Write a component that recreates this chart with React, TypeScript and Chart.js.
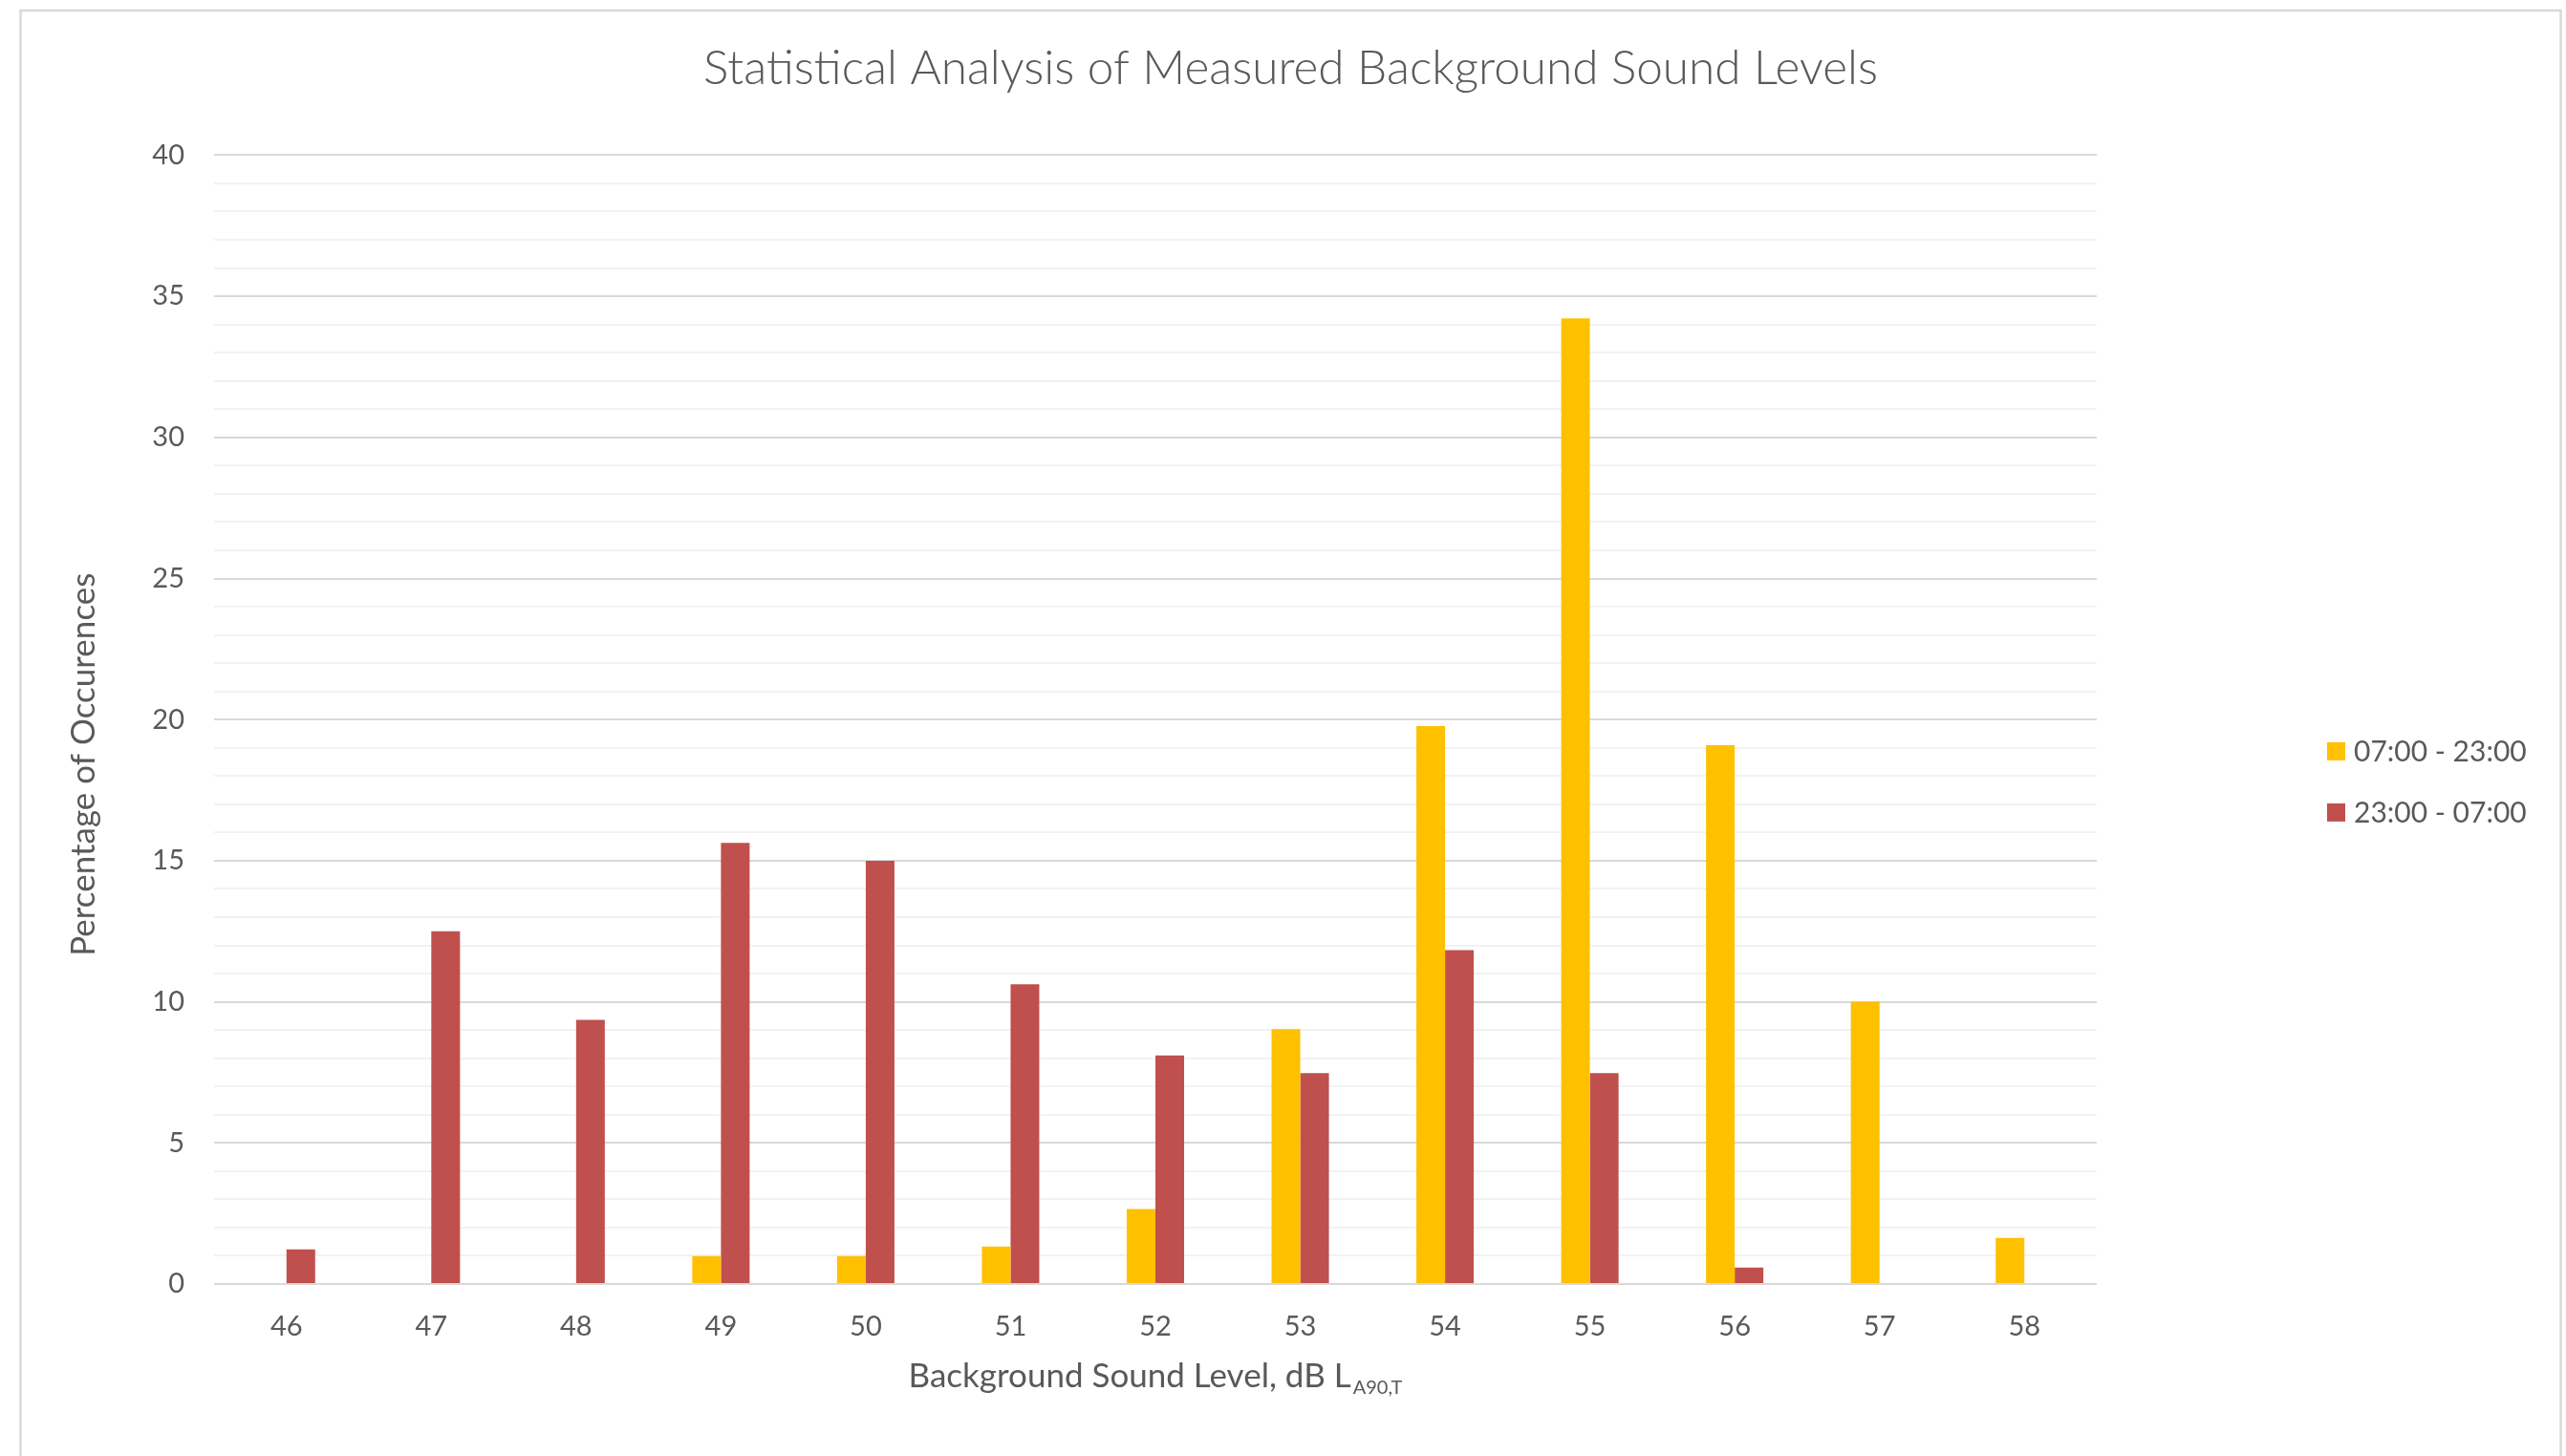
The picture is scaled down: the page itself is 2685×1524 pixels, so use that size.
import React, { useEffect, useRef } from "react";
import { Chart, registerables } from "chart.js";

Chart.register(...registerables);

const categories = ["46", "47", "48", "49", "50", "51", "52", "53", "54", "55", "56", "57", "58"];
const seriesNames = ["07:00 - 23:00", "23:00 - 07:00"];
const daytime = [0, 0, 0, 0.99, 0.99, 1.33, 2.66, 9.03, 19.77, 34.22, 19.09, 10.01, 1.63];
const nighttime = [1.23, 12.5, 9.36, 15.63, 15.0, 10.62, 8.1, 7.47, 11.83, 7.47, 0.58, 0, 0];
const seriesColors = ["#FFC000", "#C0504D"];

const chartTitle = "Statistical Analysis of Measured Background Sound Levels";
const yTitle = "Percentage of Occurences";
const xTitleMain = "Background Sound Level, dB L";
const xTitleSub = "A90,T";

const W = 2685;
const H = 1524;
const TEXT = "#595959";
const FONT = "Lato, Carlito, 'Open Sans', sans-serif";

const decorPlugin = {
  id: "decor",
  beforeDraw(chart: any) {
    const ctx = chart.ctx;
    ctx.save();
    ctx.fillStyle = "#ffffff";
    ctx.fillRect(0, 0, chart.width, chart.height);
    ctx.strokeStyle = "#d9d9d9";
    ctx.lineWidth = 2.5;
    ctx.beginPath();
    ctx.moveTo(21.5, H + 5);
    ctx.lineTo(21.5, 11);
    ctx.lineTo(2679.5, 11);
    ctx.lineTo(2679.5, H + 5);
    ctx.stroke();
    ctx.restore();
  },
  afterDraw(chart: any) {
    const ctx = chart.ctx;
    const area = chart.chartArea;
    ctx.save();
    ctx.fillStyle = TEXT;

    // x axis title with subscript
    const mainSize = 35;
    const subSize = 20;
    ctx.font = `${mainSize}px ${FONT}`;
    const mainW = ctx.measureText(xTitleMain).width;
    ctx.font = `${subSize}px ${FONT}`;
    const subW = ctx.measureText(xTitleSub).width;
    const cx = (area.left + area.right) / 2;
    const x0 = cx - (mainW + 2 + subW) / 2;
    const baseY = area.bottom + 108;
    ctx.textAlign = "left";
    ctx.textBaseline = "alphabetic";
    ctx.font = `${mainSize}px ${FONT}`;
    ctx.fillText(xTitleMain, x0, baseY);
    ctx.font = `${subSize}px ${FONT}`;
    ctx.fillText(xTitleSub, x0 + mainW + 2, baseY + 7);

    // y axis title
    ctx.save();
    ctx.translate(99, (area.top + area.bottom) / 2 + 47);
    ctx.rotate(-Math.PI / 2);
    ctx.font = `${mainSize}px ${FONT}`;
    ctx.textAlign = "center";
    ctx.textBaseline = "alphabetic";
    ctx.fillText(yTitle, 0, 0);
    ctx.restore();

    // legend
    const legendX = area.right + 241;
    const legendY0 = area.top + 624;
    const gap = 64;
    const box = 19;
    ctx.font = `30px ${FONT}`;
    ctx.textBaseline = "middle";
    ctx.textAlign = "left";
    chart.data.datasets.forEach((ds: any, i: number) => {
      const y = legendY0 + i * gap;
      ctx.fillStyle = ds.backgroundColor;
      ctx.fillRect(legendX, y - box / 2, box, box);
      ctx.fillStyle = TEXT;
      ctx.fillText(ds.label, legendX + box + 9, y + 1);
    });
    ctx.restore();
  },
};

export default function App() {
  const ref = useRef<HTMLCanvasElement | null>(null);

  useEffect(() => {
    if (!ref.current) return;
    const chart = new Chart(ref.current, {
      type: "bar",
      data: {
        labels: categories,
        datasets: [
          {
            label: seriesNames[0],
            data: daytime,
            backgroundColor: seriesColors[0],
            borderWidth: 0,
            categoryPercentage: 0.396,
            barPercentage: 1,
            yAxisID: "y",
          },
          {
            label: seriesNames[1],
            data: nighttime,
            backgroundColor: seriesColors[1],
            borderWidth: 0,
            categoryPercentage: 0.396,
            barPercentage: 1,
            yAxisID: "y",
          },
        ],
      },
      options: {
        animation: false,
        responsive: false,
        devicePixelRatio: 1,
        layout: { padding: { left: 20, right: 4, top: 10, bottom: 0 } },
        plugins: {
          legend: { display: false },
          tooltip: { enabled: false },
          title: {
            display: true,
            text: chartTitle,
            color: TEXT,
            font: { family: FONT, size: 49.5, weight: "300" as any },
            padding: { top: 32, bottom: 61 },
          },
        },
        scales: {
          x: {
            type: "category",
            grid: { display: false, drawTicks: false },
            border: { display: false },
            ticks: {
              color: TEXT,
              font: { family: FONT, size: 29 },
              padding: 27,
              maxRotation: 0,
              autoSkip: false,
            },
            afterFit: (s: any) => {
              s.height = 180;
            },
          },
          y: {
            type: "linear",
            position: "left",
            min: 0,
            max: 40,
            grid: {
              drawTicks: false,
              lineWidth: 2,
              color: (c: any) =>
                c.tick && c.tick.value % 5 === 0 ? "#d9d9d9" : "#f2f2f2",
            },
            border: { display: false },
            ticks: {
              stepSize: 1,
              autoSkip: false,
              color: TEXT,
              font: { family: FONT, size: 29 },
              padding: 31,
              callback: (v: any) => (Number(v) % 5 === 0 ? String(v) : ""),
            },
            afterFit: (s: any) => {
              s.width = 204;
            },
          },
          legendSpace: {
            type: "linear",
            position: "right",
            display: true,
            grid: { display: false, drawTicks: false },
            border: { display: false },
            ticks: { display: false },
            afterFit: (s: any) => {
              s.width = 487;
            },
          },
        },
      },
      plugins: [decorPlugin],
    });
    let alive = true;
    if ((document as any).fonts && (document as any).fonts.load) {
      Promise.all([
        (document as any).fonts.load(`300 49.5px Lato`),
        (document as any).fonts.load(`30px Lato`),
      ])
        .catch(() => null)
        .then(() => {
          if (alive) chart.update();
        });
    }
    return () => {
      alive = false;
      chart.destroy();
    };
  }, []);

  return (
    <div
      style={{
        position: "absolute",
        left: 0,
        top: 0,
        width: W,
        height: H,
        background: "#ffffff",
        overflow: "hidden",
      }}
    >
      <canvas ref={ref} width={W} height={H} style={{ display: "block", width: W, height: H }} />
    </div>
  );
}
